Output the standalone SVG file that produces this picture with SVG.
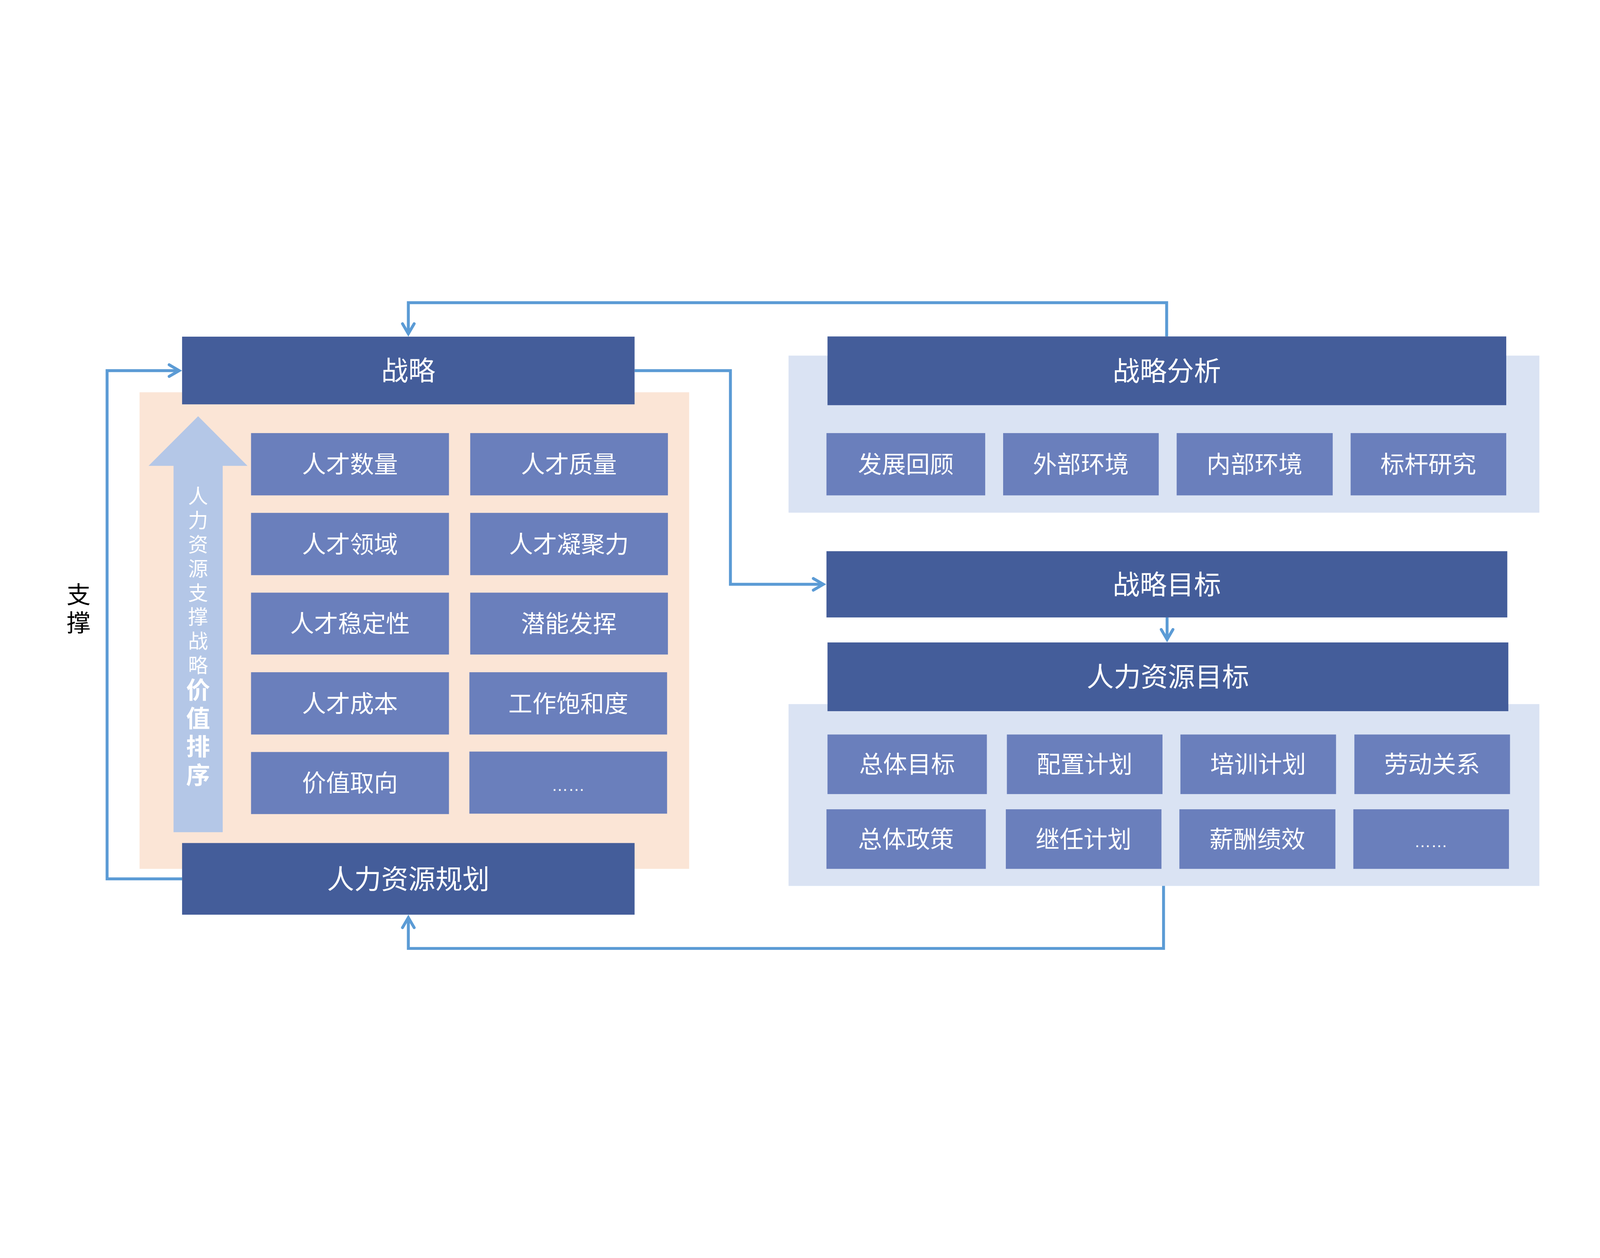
<svg xmlns="http://www.w3.org/2000/svg" width="7680" height="3221" viewBox="0 0 7680 3221">
<defs>
<style>
:root{width:100vw;height:100vh;display:block}
.hdr{fill:#445D9A}
.sub{fill:#6A7FBC}
.peach{fill:#FBE5D6}
.lbg{fill:#DAE3F3}
.t{font-family:"Noto Sans CJK SC","Noto Sans",sans-serif;fill:#FFFFFF;text-anchor:middle}
.th{font-size:130px}
.ts{font-size:115px}
.dots{font-family:"Liberation Sans",sans-serif;font-size:80px;fill:#FFFFFF;text-anchor:middle}
.conn{fill:none;stroke:#5B9BD5;stroke-width:14;stroke-linejoin:miter}
</style>
<marker id="ah" markerUnits="userSpaceOnUse" viewBox="-80 -50 120 100" markerWidth="120" markerHeight="100" refX="0" refY="0" orient="auto" overflow="visible">
<path d="M-48,-28 L0,0 L-48,28" fill="none" stroke="#5B9BD5" stroke-width="14" stroke-linecap="round" stroke-linejoin="miter" stroke-miterlimit="10"/>
</marker>
</defs>
<rect width="7680" height="3221" fill="#FFFFFF"/>

<!-- background panels -->
<g id="panel-left"><rect class="peach" x="670" y="474" width="2638" height="2288"/></g>
<g id="panel-analysis"><rect class="lbg" x="3785" y="298" width="3604" height="754"/></g>
<g id="panel-hr"><rect class="lbg" x="3785" y="1971" width="3604" height="873"/></g>

<!-- big up arrow -->
<g id="value-arrow">
<polygon points="951,589 1188,827 1069,827 1069,2586 833,2586 833,827 713,827" fill="#B4C7E7"/>
<text class="t" x="951" style="font-size:96px"><tspan x="951" y="1008">人</tspan><tspan x="951" y="1124">力</tspan><tspan x="951" y="1240">资</tspan><tspan x="951" y="1356">源</tspan><tspan x="951" y="1472">支</tspan><tspan x="951" y="1588">撑</tspan><tspan x="951" y="1704">战</tspan><tspan x="951" y="1820">略</tspan><tspan x="951" y="1946" style="font-size:115px;font-weight:bold">价</tspan><tspan x="951" y="2082" style="font-size:115px;font-weight:bold">值</tspan><tspan x="951" y="2218" style="font-size:115px;font-weight:bold">排</tspan><tspan x="951" y="2354" style="font-size:115px;font-weight:bold">序</tspan></text>
</g>

<!-- support label -->
<g id="support-label">
<text x="377" y="1488" style="font-family:'Noto Sans CJK SC','Noto Sans',sans-serif;font-size:115px;fill:#000000;text-anchor:middle"><tspan x="377" y="1488">支</tspan><tspan x="377" y="1622">撑</tspan></text>
</g>

<!-- connectors -->
<g id="connectors">
<path class="conn" d="M874,2810 H514 V370 H860" marker-end="url(#ah)"/>
<path class="conn" d="M5600,206 V44 H1960 V193" marker-end="url(#ah)"/>
<path class="conn" d="M3046,370 H3506 V1396 H3952" marker-end="url(#ah)"/>
<path class="conn" d="M5602,1555 V1661" marker-end="url(#ah)"/>
<path class="conn" d="M5585,2844 V3144 H1960 V2996" marker-end="url(#ah)"/>
</g>

<!-- header nodes -->
<g id="node-strategy"><rect class="hdr" x="874" y="207" width="2172" height="325"/><text class="t th" x="1960" y="418">战略</text></g>
<g id="node-hr-planning"><rect class="hdr" x="874" y="2638" width="2172" height="344"/><text class="t th" x="1960" y="2858">人力资源规划</text></g>
<g id="node-strategy-analysis"><rect class="hdr" x="3972" y="206" width="3258" height="330"/><text class="t th" x="5601" y="419">战略分析</text></g>
<g id="node-strategy-goal"><rect class="hdr" x="3967" y="1237" width="3268" height="318"/><text class="t th" x="5601" y="1444">战略目标</text></g>
<g id="node-hr-goal"><rect class="hdr" x="3972" y="1675" width="3268" height="330"/><text class="t th" x="5606" y="1888">人力资源目标</text></g>

<!-- left grid -->
<g id="node-l1"><rect class="sub" x="1205" y="670" width="950" height="299"/><text class="t ts" x="1680" y="862">人才数量</text></g>
<g id="node-l2"><rect class="sub" x="2257" y="670" width="949" height="299"/><text class="t ts" x="2731" y="862">人才质量</text></g>
<g id="node-l3"><rect class="sub" x="1205" y="1053" width="950" height="299"/><text class="t ts" x="1680" y="1245">人才领域</text></g>
<g id="node-l4"><rect class="sub" x="2257" y="1053" width="949" height="299"/><text class="t ts" x="2731" y="1245">人才凝聚力</text></g>
<g id="node-l5"><rect class="sub" x="1205" y="1436" width="950" height="297"/><text class="t ts" x="1680" y="1627">人才稳定性</text></g>
<g id="node-l6"><rect class="sub" x="2257" y="1436" width="949" height="297"/><text class="t ts" x="2731" y="1627">潜能发挥</text></g>
<g id="node-l7"><rect class="sub" x="1205" y="1818" width="950" height="299"/><text class="t ts" x="1680" y="2010">人才成本</text></g>
<g id="node-l8"><rect class="sub" x="2253" y="1818" width="949" height="299"/><text class="t ts" x="2728" y="2010">工作饱和度</text></g>
<g id="node-l9"><rect class="sub" x="1205" y="2201" width="950" height="298"/><text class="t ts" x="1680" y="2392">价值取向</text></g>
<g id="node-l10"><rect class="sub" x="2253" y="2199" width="949" height="298"/><text class="dots" x="2727" y="2388">……</text></g>

<!-- analysis items -->
<g id="node-a1"><rect class="sub" x="3967" y="670" width="762" height="299"/><text class="t ts" x="4348" y="862">发展回顾</text></g>
<g id="node-a2"><rect class="sub" x="4815" y="670" width="747" height="299"/><text class="t ts" x="5188" y="862">外部环境</text></g>
<g id="node-a3"><rect class="sub" x="5648" y="670" width="749" height="299"/><text class="t ts" x="6022" y="862">内部环境</text></g>
<g id="node-a4"><rect class="sub" x="6483" y="670" width="747" height="299"/><text class="t ts" x="6856" y="862">标杆研究</text></g>

<!-- hr items -->
<g id="node-h1"><rect class="sub" x="3972" y="2117" width="765" height="286"/><text class="t ts" x="4354" y="2302">总体目标</text></g>
<g id="node-h2"><rect class="sub" x="4833" y="2117" width="747" height="286"/><text class="t ts" x="5206" y="2302">配置计划</text></g>
<g id="node-h3"><rect class="sub" x="5666" y="2117" width="747" height="286"/><text class="t ts" x="6039" y="2302">培训计划</text></g>
<g id="node-h4"><rect class="sub" x="6501" y="2117" width="747" height="286"/><text class="t ts" x="6874" y="2302">劳动关系</text></g>
<g id="node-h5"><rect class="sub" x="3967" y="2476" width="765" height="286"/><text class="t ts" x="4349" y="2661">总体政策</text></g>
<g id="node-h6"><rect class="sub" x="4828" y="2476" width="747" height="286"/><text class="t ts" x="5201" y="2661">继任计划</text></g>
<g id="node-h7"><rect class="sub" x="5661" y="2476" width="749" height="286"/><text class="t ts" x="6035" y="2661">薪酬绩效</text></g>
<g id="node-h8"><rect class="sub" x="6496" y="2476" width="747" height="286"/><text class="dots" x="6868" y="2658">……</text></g>
</svg>
